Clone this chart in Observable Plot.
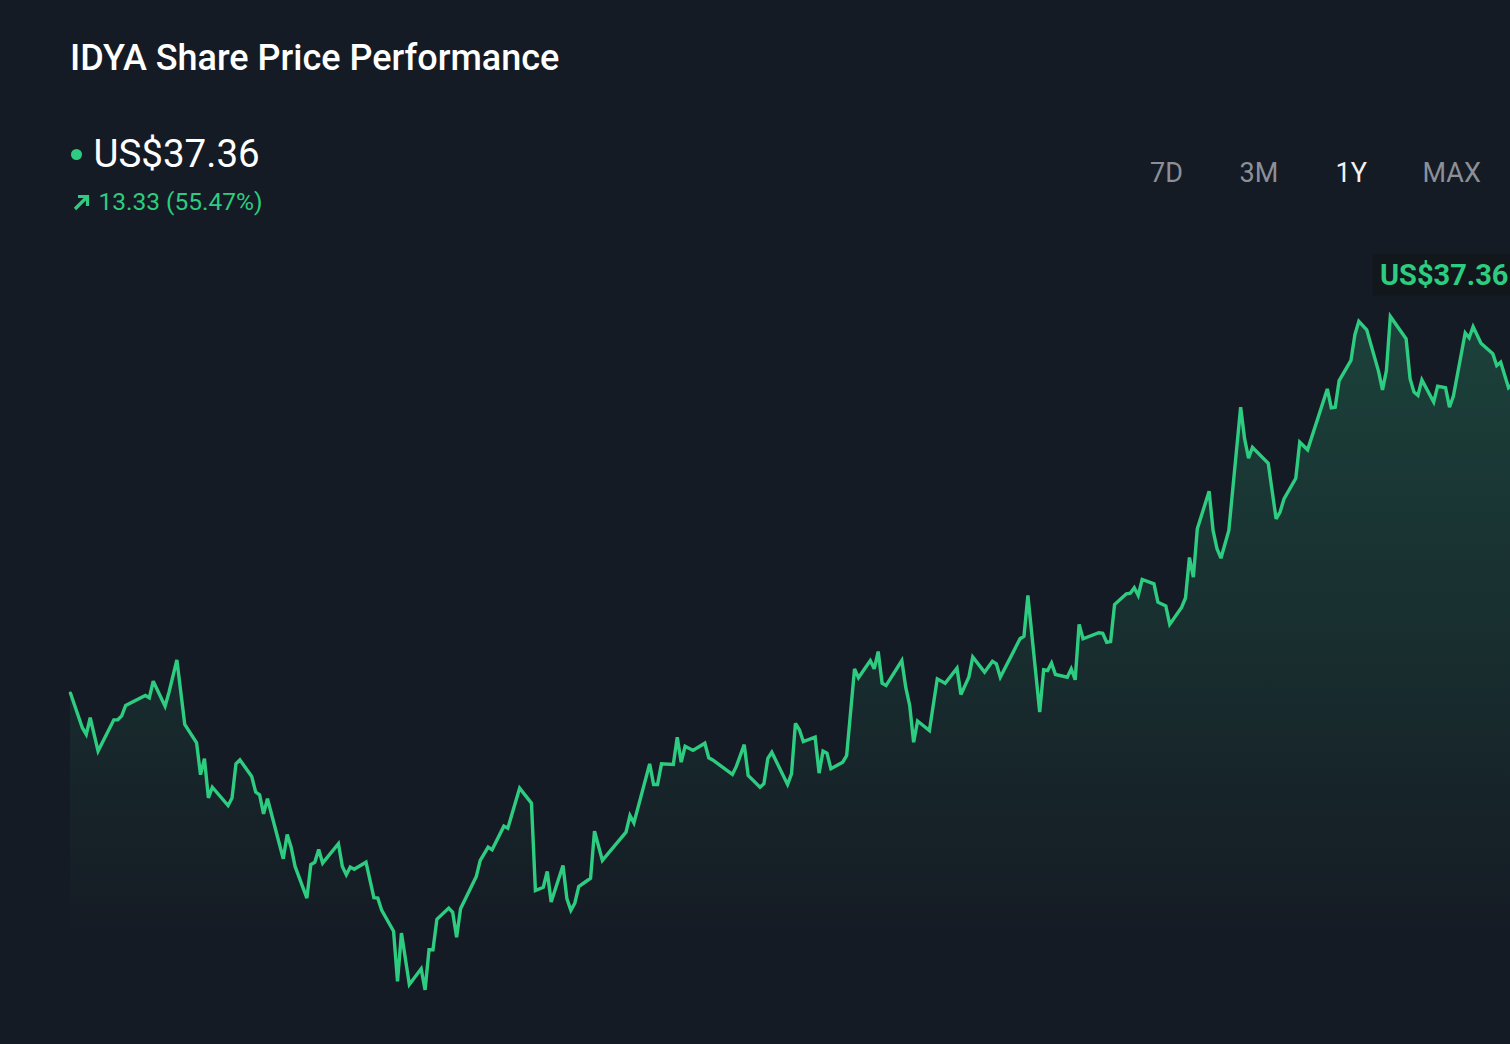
<!DOCTYPE html>
<html>
<head>
<meta charset="utf-8">
<script src="https://cdn.jsdelivr.net/npm/d3@7"></script>
<script src="https://cdn.jsdelivr.net/npm/@observablehq/plot@0.6"></script>
<style>
  html, body { margin: 0; padding: 0; background: #151b24; overflow: hidden; }
  body { width: 1510px; height: 1044px; position: relative; font-family: Roboto, "Noto Sans", sans-serif; }
  #header { position: relative; width: 1510px; height: 230px; }
  .abs { position: absolute; white-space: nowrap; line-height: 1; }
  #title { left: 70px; top: 39.7px; font-size: 36px; font-weight: 500; color: #ffffff; }
  #dot { left: 70.5px; top: 148.5px; width: 11px; height: 11px; border-radius: 50%; background: #2ecc80; }
  #price { left: 93.5px; top: 134.8px; font-size: 38.5px; font-weight: 400; color: #ffffff; }
  #arrow { left: 72px; top: 192px; }
  #change { left: 98.5px; top: 189.6px; font-size: 24.5px; color: #2ecc80; }
  .range { top: 159.6px; font-size: 27px; color: #8b9098; }
  .range.active { color: #f2f2f2; }
  #chartWrap { position: absolute; left: 0; top: 230px; width: 1510px; height: 814px; overflow: hidden; }
  #chartWrap svg { max-width: none !important; display: block; }
</style>
</head>
<body>
<div id="header">
  <div id="title" class="abs"></div>
  <div id="dot" class="abs"></div>
  <div id="price" class="abs"></div>
  <svg id="arrow" class="abs" width="18" height="20" viewBox="0 0 18 20">
    <path d="M3 17 L14.5 5.5 M6 4.5 H15.5 V14" fill="none" stroke="#2ecc80" stroke-width="3.2"/>
  </svg>
  <div id="change" class="abs"></div>
</div>
<div id="chartWrap"></div>
<script>
// ---- data ----
const ticker = "IDYA";
const lastPrice = 37.36;
const priceChange = 13.33;
const pctChange = 55.47;
const rangeLabels = ["7D", "3M", "1Y", "MAX"];
const activeRange = "1Y";
const rangeLeft = [1150, 1239.5, 1335.5, 1422.5];

// days since start of the 1Y window
const sessionDay = [
  0,3,4,5,7,11,12,13,14,19,
  20,21,24,25,27,29,32,33,34,35,
  36,40,41,42,43,46,47,48,49,50,
  54,55,56,57,60,61,62,63,64,68,
  69,70,71,72,75,77,78,79,82,83,
  84,86,89,90,91,92,93,96,97,98,
  99,103,104,106,107,110,111,114,117,118,
  120,121,122,125,126,127,128,129,132,133,
  135,141,142,143,147,148,149,150,153,154,
  155,156,158,161,162,163,168,169,171,172,
  175,176,177,178,182,183,184,185,186,189,
  190,191,192,193,196,197,199,200,203,204,
  205,206,207,211,212,213,214,215,218,220,
  222,225,226,228,229,232,234,235,236,241,
  242,243,246,247,248,249,250,253,254,255,
  256,257,261,262,263,264,265,268,269,270,
  271,272,275,276,278,279,282,283,284,285,
  286,289,290,291,292,294,297,298,299,300,
  304,306,307,308,311,312,314,319,320,321,
  322,325,326,327,329,332,333,334,335,339,
  340,341,342,343,346,347,349,350,351,354,
  355,356,358,361,362,363,365,366
];
// share price (US$)
const closePrice = [
  24.03,22.54,22.25,22.97,21.53,22.88,22.88,23.05,23.50,23.93,
  23.83,24.55,23.47,24.07,25.47,22.68,21.89,20.51,21.20,19.51,
  19.97,19.18,19.50,20.98,21.15,20.43,19.76,19.64,18.82,19.47,
  16.88,17.93,17.38,16.55,15.18,16.63,16.73,17.28,16.69,17.53,
  16.55,16.19,16.52,16.43,16.73,15.20,15.18,14.65,13.75,11.59,
  13.67,11.45,12.13,11.22,12.95,12.95,14.27,14.75,14.57,13.49,
  14.72,16.12,16.81,17.38,17.27,18.29,18.20,19.93,19.28,15.51,
  15.65,16.33,15.01,16.59,15.15,14.65,14.96,15.68,16.04,18.07,
  16.81,18.03,18.75,18.43,20.98,20.09,20.09,20.98,20.95,22.13,
  21.05,21.74,21.56,21.87,21.24,21.15,20.52,20.87,21.81,20.48,
  19.97,20.12,21.22,21.48,20.09,20.55,22.73,22.45,21.94,22.13,
  20.58,21.53,21.44,20.77,21.05,21.34,25.08,24.70,25.44,25.08,
  25.83,24.46,24.36,25.44,24.28,23.50,21.91,22.83,22.42,24.65,
  24.46,25.11,23.97,24.72,25.59,24.94,25.41,25.30,24.72,26.38,
  26.49,28.25,23.21,25.04,25.01,25.33,24.84,24.72,25.08,24.61,
  27.00,26.38,26.64,26.62,26.23,26.26,27.86,28.32,28.35,28.58,
  28.25,28.94,28.75,27.96,27.80,27.00,27.73,28.14,29.89,29.04,
  31.13,32.75,31.06,30.27,29.86,31.06,36.38,35.02,34.18,34.65,
  33.96,31.56,31.85,32.42,33.31,34.87,34.54,37.17,36.35,36.38,
  37.53,38.40,39.51,40.09,39.72,37.93,37.13,37.96,40.30,39.33,
  37.61,37.03,36.89,37.56,36.60,37.29,37.22,36.38,36.86,39.59,
  39.38,39.86,39.14,38.69,38.18,38.32,37.22,37.36
];

const priceFloor = 10;
const priceCeil = 42;
const green = "#2ecc80";

const data = sessionDay.map((d, i) => ({day: d, price: closePrice[i]}));
const last = data[data.length - 1];
const fmt = v => "US$" + v.toFixed(2);

// ---- header ----
document.getElementById("title").textContent = ticker + " Share Price Performance";
document.getElementById("price").textContent = fmt(lastPrice);
document.getElementById("change").textContent = priceChange.toFixed(2) + " (" + pctChange.toFixed(2) + "%)";
const header = document.getElementById("header");
rangeLabels.forEach((r, i) => {
  const el = document.createElement("div");
  el.className = "abs range" + (r === activeRange ? " active" : "");
  el.style.left = rangeLeft[i] + "px";
  el.textContent = r;
  header.appendChild(el);
});

// ---- chart ----
const chart = Plot.plot({
  width: 1530,
  height: 814,
  marginLeft: 70,
  marginRight: 18,
  marginTop: 46.55,
  marginBottom: 26.4,
  style: {background: "transparent", maxWidth: "none", overflow: "hidden"},
  x: {domain: [0, 366], axis: null},
  y: {domain: [priceFloor, priceCeil], axis: null},
  marks: [
    Plot.areaY(data, {x: "day", y1: priceFloor, y2: "price", fill: "url(#areaGrad)", curve: "linear"}),
    Plot.lineY(data, {x: "day", y: "price", stroke: green, strokeWidth: 3.4, strokeLinejoin: "miter", strokeMiterlimit: 3, curve: "linear"}),
    Plot.text([last], {x: "day", frameAnchor: "top", lineAnchor: "middle", dy: -1.5, dx: -4, text: d => fmt(d.price), textAnchor: "end",
      fill: green, fontSize: 29, fontWeight: 700, fontFamily: "Roboto", className: "lastLabel"})
  ]
});
document.getElementById("chartWrap").appendChild(chart);

const svg = d3.select(chart);
const grad = svg.insert("defs", ":first-child").append("linearGradient")
  .attr("id", "areaGrad").attr("x1", 0).attr("y1", 0).attr("x2", 0).attr("y2", 1);
grad.append("stop").attr("offset", 0).attr("stop-color", "#33c98a").attr("stop-opacity", 0.22);
grad.append("stop").attr("offset", 0.45).attr("stop-color", "#33c98a").attr("stop-opacity", 0.11);
grad.append("stop").attr("offset", 0.88).attr("stop-color", "#33c98a").attr("stop-opacity", 0);

// dark box behind the last-price label
const lbl = chart.querySelector(".lastLabel text") || Array.from(chart.querySelectorAll("text")).pop();
if (lbl) {
  const r = lbl.getBoundingClientRect();
  const s = chart.getBoundingClientRect();
  const cy = r.top - s.top + r.height / 2;
  svg.insert("rect", "g.lastLabel")
    .attr("x", r.left - s.left - 7).attr("y", cy - 20.5)
    .attr("width", r.width + 40).attr("height", 41)
    .attr("fill", "#12171c");
}
</script>
</body>
</html>
